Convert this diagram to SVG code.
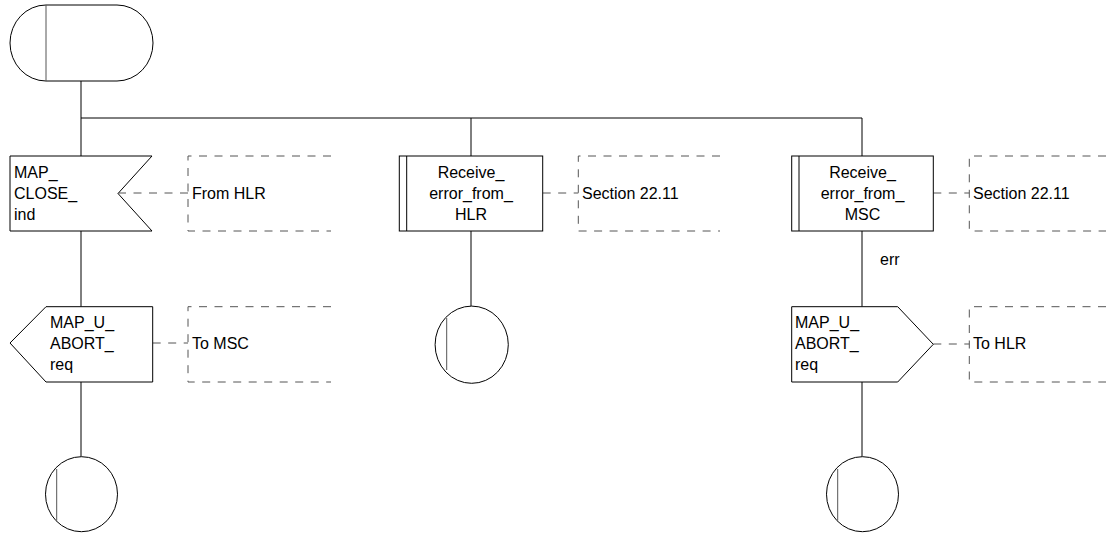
<svg xmlns="http://www.w3.org/2000/svg" width="1106" height="533" viewBox="0 0 1106 533">
<style>
.s{fill:#fff;stroke:#000;stroke-width:1}
.l{fill:none;stroke:#000;stroke-width:1}
.g{fill:none;stroke:#555;stroke-width:1}
.d{fill:none;stroke:#555;stroke-width:1;stroke-dasharray:8,7.5}
text{font-family:"Liberation Sans",Arial,sans-serif;font-size:16px;fill:#000}
.c{text-anchor:middle}
</style>
<rect width="1106" height="533" fill="#fff"/>
<g id="connectors">
<path class="l" d="M81,81V156M81,118H862M471,118V156M862,118V156"/>
<path class="l" d="M81,231V306.7M81,382V456.7"/>
<path class="l" d="M471,231V306"/>
<path class="l" d="M862,231V306.7M862,382V456.7"/>
<path class="d" d="M118,193H188M542.7,193H578.3M933.3,193H969.3M152.7,343H188M933.3,344H969.3"/>
</g>
<g id="start">
<path class="s" d="M46,5H117A36,38 0 0 1 117,81H46A36,38 0 0 1 46,5Z"/>
<path class="g" d="M46,5V81"/>
</g>
<g id="map_close_ind">
<path class="s" d="M10,156H152L118,193.5L152,231H10Z"/>
<text x="14" y="178">MAP_</text>
<text x="14" y="199">CLOSE_</text>
<text x="14" y="220">ind</text>
</g>
<g id="comment_from_hlr">
<path class="d" d="M331,156H188V231H331"/>
<text x="192" y="199">From HLR</text>
</g>
<g id="receive_error_hlr">
<rect class="s" x="399.3" y="156" width="143.4" height="75"/>
<path class="l" d="M406.7,156V231"/>
<text class="c" x="471" y="178">Receive_</text>
<text class="c" x="471" y="199">error_from_</text>
<text class="c" x="471" y="220">HLR</text>
</g>
<g id="comment_section_1">
<path class="d" d="M720,156H578.3V231H720"/>
<text x="582" y="199">Section 22.11</text>
</g>
<g id="receive_error_msc">
<rect class="s" x="791.7" y="156" width="141.6" height="75"/>
<path class="l" d="M799,156V231"/>
<text class="c" x="862.5" y="178">Receive_</text>
<text class="c" x="862.5" y="199">error_from_</text>
<text class="c" x="862.5" y="220">MSC</text>
</g>
<g id="comment_section_2">
<path class="d" d="M1106,156H969.3V231H1106"/>
<text x="973" y="199">Section 22.11</text>
</g>
<text x="880" y="265">err</text>
<g id="map_u_abort_req_msc">
<path class="s" d="M46,306.7H152.7V382H46L10,343Z"/>
<text x="50" y="328">MAP_U_</text>
<text x="50" y="349">ABORT_</text>
<text x="50" y="370">req</text>
</g>
<g id="comment_to_msc">
<path class="d" d="M331,306.7H188V382H331"/>
<text x="192" y="349">To MSC</text>
</g>
<g id="map_u_abort_req_hlr">
<path class="s" d="M791.7,306.7H897.7L933.3,344.3L897.7,382H791.7Z"/>
<text x="795" y="328">MAP_U_</text>
<text x="795" y="349">ABORT_</text>
<text x="795" y="370">req</text>
</g>
<g id="comment_to_hlr">
<path class="d" d="M1106,306.7H969.3V382H1106"/>
<text x="973" y="349">To HLR</text>
</g>
<g id="stop_left">
<ellipse class="s" cx="81.5" cy="494.2" rx="36" ry="37.5"/>
<path class="g" d="M56.7,469V520.7"/>
</g>
<g id="stop_middle">
<ellipse class="s" cx="471.7" cy="344.7" rx="36.6" ry="38.6"/>
<path class="g" d="M446.7,318V370"/>
</g>
<g id="stop_right">
<ellipse class="s" cx="862.5" cy="494.2" rx="36" ry="37.5"/>
<path class="g" d="M837.7,469V520.7"/>
</g>
</svg>
